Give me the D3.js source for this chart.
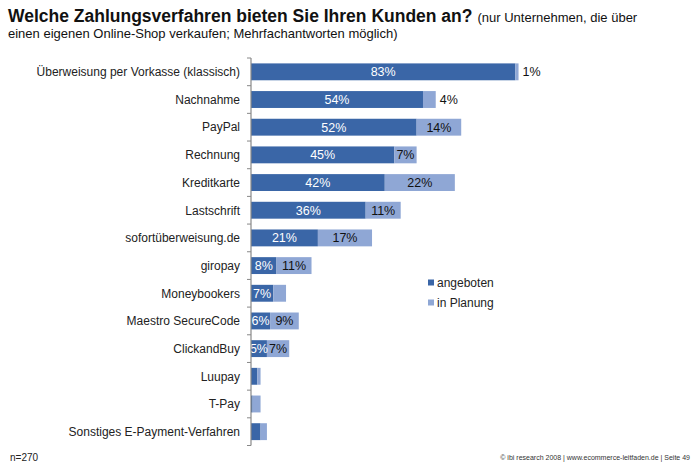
<!DOCTYPE html>
<html><head><meta charset="utf-8">
<script src="https://cdn.jsdelivr.net/npm/d3@7"></script>
<style>body{margin:0;background:#fff;}svg{display:block;font-family:"Liberation Sans",Arial,sans-serif;}</style>
</head><body>
<svg id="c" width="699" height="466"></svg>
<script>
const categories = ["Überweisung per Vorkasse (klassisch)","Nachnahme","PayPal","Rechnung","Kreditkarte","Lastschrift","sofortüberweisung.de","giropay","Moneybookers","Maestro SecureCode","ClickandBuy","Luupay","T-Pay","Sonstiges E-Payment-Verfahren"];
const angeboten = [83,54,52,45,42,36,21,8,7,6,5,2,0.5,3];
const inPlanung = [1,4,14,7,22,11,17,11,4,9,7,1,2.5,2];
const labelA = ["83%","54%","52%","45%","42%","36%","21%","8%","7%","6%","5%","","",""];
const labelP = ["1%","4%","14%","7%","22%","11%","17%","11%","","9%","7%","","",""];
const outsideP = [true,true,false,false,false,false,false,false,false,false,false,false,false,false];
const seriesNames = ["angeboten","in Planung"];
const colors = ["#3a66a7","#8fa7d5"];

const svg = d3.select("#c");
const x = d3.scaleLinear().domain([0,100]).range([251, 251+318.5]);
const y = d3.scaleBand().domain(categories).range([58,445.5]).paddingInner(0.39).paddingOuter(0.195);

// title
const t = svg.append("text").attr("x",8).attr("y",22).attr("fill","#111");
t.append("tspan").attr("font-weight","bold").attr("font-size",17.5).text("Welche Zahlungsverfahren bieten Sie Ihren Kunden an?");
t.append("tspan").attr("font-size",13).attr("dx",5).text("(nur Unternehmen, die über");
svg.append("text").attr("x",8).attr("y",38).attr("font-size",13).attr("fill","#111")
  .text("einen eigenen Online-Shop verkaufen; Mehrfachantworten möglich)");

// bars
const g = svg.append("g");
categories.forEach((c,i)=>{
  const yy = y(c), h = y.bandwidth();
  g.append("rect").attr("x",x(0)).attr("y",yy).attr("width",x(angeboten[i])-x(0)).attr("height",h).attr("fill",colors[0]);
  g.append("rect").attr("x",x(angeboten[i])).attr("y",yy).attr("width",x(angeboten[i]+inPlanung[i])-x(angeboten[i])).attr("height",h).attr("fill",colors[1]);
  const cy = yy + h/2 + 4.5;
  if (labelA[i]) g.append("text").attr("x",(x(0)+x(angeboten[i]))/2).attr("y",cy).attr("text-anchor","middle")
      .attr("font-size",12.5).attr("fill","#fff").text(labelA[i]);
  if (labelP[i]) {
    if (outsideP[i]) g.append("text").attr("x",x(angeboten[i]+inPlanung[i])+4).attr("y",cy).attr("font-size",12.5).attr("fill","#111").text(labelP[i]);
    else g.append("text").attr("x",(x(angeboten[i])+x(angeboten[i]+inPlanung[i]))/2).attr("y",cy).attr("text-anchor","middle")
      .attr("font-size",12.5).attr("fill","#111").text(labelP[i]);
  }
});

// category axis
const axis = svg.append("g");
axis.append("line").attr("x1",251).attr("x2",251).attr("y1",58).attr("y2",445.5).attr("stroke","#888").attr("stroke-width",1.2);
const step = y.step();
for (let k=0;k<=categories.length;k++){
  const ty = 58 + k*step;
  axis.append("line").attr("x1",247).attr("x2",251).attr("y1",ty).attr("y2",ty).attr("stroke","#888");
}
categories.forEach(c=>{
  axis.append("text").attr("x",240).attr("y",y(c)+y.bandwidth()/2+4.3).attr("text-anchor","end")
    .attr("font-size",12).attr("fill","#222").text(c);
});

// legend
seriesNames.forEach((s,i)=>{
  const ly = 283 + i*20;
  svg.append("rect").attr("x",428).attr("y",ly-3.5).attr("width",6).attr("height",6).attr("fill",colors[i]);
  svg.append("text").attr("x",437).attr("y",ly+4.3).attr("font-size",12).attr("fill","#222").text(s);
});

// footer
svg.append("text").attr("x",10).attr("y",461).attr("font-size",10).attr("fill","#222").text("n=270");
svg.append("text").attr("x",690).attr("y",460).attr("text-anchor","end").attr("font-size",7).attr("fill","#333")
  .text("© ibi research 2008 | www.ecommerce-leitfaden.de | Seite 49");
</script>
</body></html>
